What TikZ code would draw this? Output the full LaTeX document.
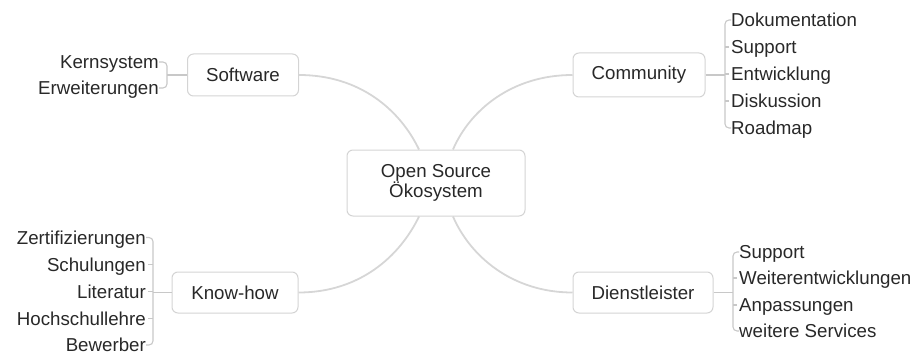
\documentclass[tikz,border=0pt]{standalone}
\usepackage{fontspec}
\setmainfont{Liberation Sans}
\definecolor{txt}{RGB}{40,40,40}
\definecolor{boxline}{RGB}{212,212,212}
\definecolor{conn}{RGB}{214,214,214}
\definecolor{brk}{RGB}{200,200,200}
\begin{document}
\begin{tikzpicture}[x=1pt,y=-1pt,
  topic/.style={draw=boxline,line width=1pt,rounded corners=6pt,fill=white,text=txt,
    font=\fontsize{18.7}{19}\selectfont,inner sep=0pt},
  leafL/.style={anchor=west,inner sep=0pt,text=txt,font=\fontsize{18.7}{19}\selectfont,text height=13.4pt,text depth=0pt},
  leafR/.style={anchor=east,inner sep=0pt,text=txt,font=\fontsize{18.7}{19}\selectfont,text height=13.4pt,text depth=0pt},
  curve/.style={draw=conn,line width=1.8pt},
  bracket/.style={draw=brk,line width=1.1pt,rounded corners=4pt},
  tick/.style={draw=brk,line width=1.1pt}]
\useasboundingbox (0,0) rectangle (919,353);

% central topic
\node[topic,minimum width=178pt,minimum height=66pt,align=center,
  font=\fontsize{18.7}{18.5}\selectfont] (c) at (436,183) {Open Source\\Ökosystem};

% main topics
\node[topic,minimum width=111pt,minimum height=42pt] (sw) at (243,75) {Software};
\node[topic,minimum width=132pt,minimum height=44pt] (cm) at (639,75) {Community};
\node[topic,minimum width=126pt,minimum height=41pt] (kh) at (235,292.5) {Know-how};
\node[topic,minimum width=140pt,minimum height=41pt] (dl) at (643,292.5) {Dienstleister};

% connectors
\draw[curve] (sw.east) .. controls (360,75) and (400,110) .. ([xshift=-17pt]c.north);
\draw[curve] (cm.west) .. controls (512,75) and (470,110) .. ([xshift=17pt]c.north);
\draw[curve] (kh.east) .. controls (360,292.5) and (400,256) .. ([xshift=-17pt]c.south);
\draw[curve] (dl.west) .. controls (512,292.5) and (470,256) .. ([xshift=17pt]c.south);

% Software leaves
\node[leafR] (sw1) at (159,62) {Kernsystem};
\node[leafR] (sw2) at (159,88) {Erweiterungen};
\coordinate (swb) at (167,75);
\draw[tick] (sw.west) -- (swb);
\draw[bracket] (sw1.east) -- (sw1.east -| swb) -- (sw2.east -| swb) -- (sw2.east);

% Community leaves
\node[leafL] (cm1) at (731,20) {Dokumentation};
\node[leafL] (cm2) at (731,47) {Support};
\node[leafL] (cm3) at (731,74) {Entwicklung};
\node[leafL] (cm4) at (731,101) {Diskussion};
\node[leafL] (cm5) at (731,128) {Roadmap};
\coordinate (cmb) at (725,75);
\draw[tick] (cm.east) -- (cmb);
\draw[bracket] (cm1.west) -- (cm1.west -| cmb) -- (cm5.west -| cmb) -- (cm5.west);
\foreach \n in {cm2,cm3,cm4}{\draw[tick] (\n.west -| cmb) -- ([xshift=-2pt]\n.west);}

% Know-how leaves
\node[leafR] (kh1) at (146,237.5) {Zertifizierungen};
\node[leafR] (kh2) at (146,264.5) {Schulungen};
\node[leafR] (kh3) at (146,291.5) {Literatur};
\node[leafR] (kh4) at (146,318.5) {Hochschullehre};
\node[leafR] (kh5) at (146,345) {Bewerber};
\coordinate (khb) at (153,292.5);
\draw[tick] (kh.west) -- (khb);
\draw[bracket] (kh1.east) -- (kh1.east -| khb) -- (kh5.east -| khb) -- (kh5.east);
\foreach \n in {kh2,kh3,kh4}{\draw[tick] (\n.east -| khb) -- ([xshift=2pt]\n.east);}

% Dienstleister leaves
\node[leafL] (dl1) at (739,252) {Support};
\node[leafL] (dl2) at (739,278) {Weiterentwicklungen};
\node[leafL] (dl3) at (739,305) {Anpassungen};
\node[leafL] (dl4) at (739,331) {weitere Services};
\coordinate (dlb) at (733,292.5);
\draw[tick] (dl.east) -- (dlb);
\draw[bracket] (dl1.west) -- (dl1.west -| dlb) -- (dl4.west -| dlb) -- (dl4.west);
\foreach \n in {dl2,dl3}{\draw[tick] (\n.west -| dlb) -- ([xshift=-2pt]\n.west);}
\end{tikzpicture}
\end{document}
